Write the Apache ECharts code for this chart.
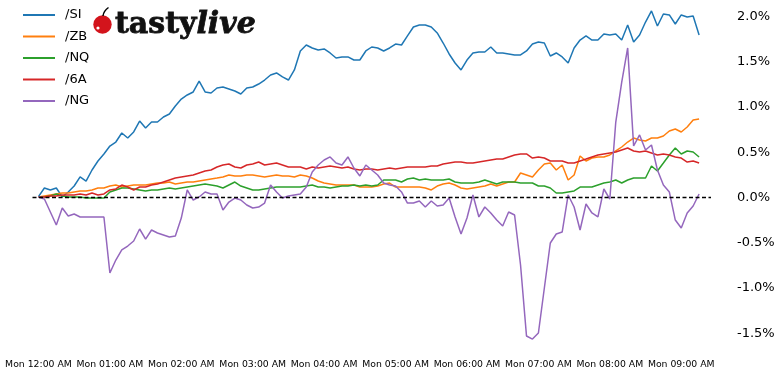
<!DOCTYPE html>
<html>
<head>
<meta charset="utf-8">
<script src="https://cdn.jsdelivr.net/npm/echarts@6/dist/echarts.min.js"></script>
<style>
html,body{margin:0;padding:0;background:#fff;}
#chart{width:780px;height:375px;}
</style>
</head>
<body>
<div id="chart"></div>
<script>
// x: minutes since Mon 12:00 AM, one point every 5 minutes
const STEP_MIN = 5;
const HOUR_LABELS = ["Mon 12:00 AM","Mon 01:00 AM","Mon 02:00 AM","Mon 03:00 AM","Mon 04:00 AM","Mon 05:00 AM","Mon 06:00 AM","Mon 07:00 AM","Mon 08:00 AM","Mon 09:00 AM"];
const Y_TICKS = [-1.5,-1.0,-0.5,0.0,0.5,1.0,1.5,2.0];

const SI = [0.01,0.105,0.083,0.105,0.006,0.061,0.127,0.227,0.182,0.304,
0.403,0.481,0.569,0.613,0.713,0.657,0.724,0.845,0.768,0.834,
0.834,0.890,0.923,1.011,1.088,1.133,1.166,1.287,1.166,1.155,
1.210,1.221,1.199,1.177,1.144,1.210,1.221,1.254,1.298,1.354,
1.376,1.332,1.298,1.409,1.619,1.685,1.652,1.630,1.641,1.597,
1.541,1.553,1.553,1.519,1.519,1.619,1.663,1.652,1.619,1.652,
1.696,1.685,1.785,1.884,1.906,1.906,1.884,1.818,1.707,1.586,
1.486,1.409,1.519,1.597,1.608,1.608,1.663,1.597,1.597,1.586,
1.575,1.575,1.619,1.696,1.718,1.707,1.564,1.597,1.553,1.486,
1.652,1.740,1.785,1.740,1.740,1.807,1.796,1.807,1.740,1.906,
1.718,1.796,1.939,2.061,1.895,2.028,2.017,1.917,2.017,1.994,
2.006,1.796];

const ZB = [0.006,0.017,0.028,0.039,0.050,0.050,0.061,0.072,0.072,0.083,
0.105,0.105,0.127,0.138,0.116,0.127,0.138,0.138,0.138,0.149,
0.160,0.160,0.171,0.149,0.160,0.171,0.171,0.182,0.193,0.204,
0.215,0.227,0.249,0.238,0.238,0.249,0.249,0.238,0.227,0.238,
0.249,0.238,0.238,0.227,0.249,0.238,0.215,0.182,0.160,0.149,
0.138,0.138,0.138,0.138,0.116,0.116,0.116,0.127,0.149,0.160,
0.116,0.116,0.116,0.116,0.116,0.105,0.083,0.127,0.149,0.160,
0.138,0.105,0.094,0.105,0.116,0.127,0.149,0.127,0.149,0.171,
0.171,0.271,0.249,0.227,0.304,0.370,0.381,0.304,0.359,0.193,
0.249,0.459,0.403,0.436,0.448,0.448,0.470,0.514,0.558,0.613,
0.657,0.635,0.624,0.657,0.657,0.680,0.735,0.757,0.724,0.779,
0.856,0.867];

const NQ = [0.006,0.006,0.017,0.039,0.017,0.006,0.006,0.006,-0.006,-0.006,
-0.006,-0.006,0.061,0.083,0.105,0.105,0.094,0.083,0.072,0.083,
0.083,0.094,0.105,0.094,0.105,0.116,0.127,0.138,0.149,0.138,
0.127,0.105,0.138,0.171,0.127,0.105,0.083,0.083,0.094,0.105,
0.116,0.116,0.116,0.116,0.116,0.127,0.138,0.116,0.116,0.105,
0.116,0.127,0.127,0.138,0.127,0.138,0.127,0.138,0.193,0.193,
0.193,0.171,0.204,0.215,0.193,0.204,0.193,0.193,0.193,0.204,
0.171,0.160,0.160,0.160,0.171,0.193,0.171,0.149,0.171,0.171,
0.171,0.160,0.160,0.160,0.127,0.127,0.105,0.050,0.050,0.061,
0.072,0.116,0.116,0.116,0.138,0.160,0.171,0.193,0.160,0.193,
0.215,0.215,0.215,0.348,0.293,0.381,0.470,0.547,0.481,0.514,
0.503,0.448];

const A6 = [0.006,0.006,0.017,0.017,0.028,0.028,0.028,0.039,0.028,0.050,
0.028,0.039,0.083,0.094,0.138,0.116,0.083,0.116,0.116,0.138,
0.149,0.171,0.193,0.215,0.227,0.238,0.249,0.271,0.293,0.304,
0.337,0.359,0.370,0.337,0.326,0.359,0.370,0.392,0.359,0.370,
0.381,0.359,0.337,0.337,0.337,0.315,0.337,0.326,0.337,0.348,
0.337,0.326,0.337,0.315,0.304,0.315,0.315,0.304,0.315,0.326,
0.315,0.326,0.337,0.337,0.337,0.337,0.348,0.348,0.370,0.381,
0.392,0.392,0.381,0.381,0.392,0.403,0.414,0.425,0.425,0.448,
0.470,0.481,0.481,0.436,0.448,0.436,0.403,0.403,0.403,0.381,
0.381,0.403,0.425,0.448,0.470,0.481,0.492,0.503,0.525,0.547,
0.514,0.503,0.514,0.492,0.470,0.481,0.470,0.448,0.436,0.392,
0.403,0.381];

const NG = [0.006,-0.017,-0.160,-0.304,-0.116,-0.204,-0.182,-0.215,-0.215,-0.215,
-0.215,-0.215,-0.834,-0.691,-0.580,-0.536,-0.481,-0.348,-0.459,-0.359,
-0.392,-0.414,-0.437,-0.425,-0.227,0.083,-0.028,0.006,0.061,0.039,
0.039,-0.138,-0.050,-0.006,-0.028,-0.083,-0.116,-0.105,-0.061,0.138,
0.061,-0.006,0.017,0.028,0.039,0.116,0.282,0.359,0.414,0.448,
0.381,0.359,0.448,0.326,0.238,0.359,0.304,0.249,0.160,0.138,
0.127,0.061,-0.061,-0.061,-0.039,-0.105,-0.039,-0.094,-0.083,-0.006,
-0.215,-0.403,-0.227,0.028,-0.215,-0.105,-0.171,-0.249,-0.315,-0.160,
-0.193,-0.746,-1.530,-1.564,-1.497,-1.000,-0.503,-0.403,-0.381,0.028,
-0.105,-0.359,-0.072,-0.171,-0.215,0.094,-0.017,0.834,1.276,1.652,
0.569,0.691,0.525,0.580,0.304,0.138,0.061,-0.249,-0.337,-0.171,
-0.094,0.039];

const SERIES_NAMES = ["/SI","/ZB","/NQ","/6A","/NG"];
const SERIES_DATA = [SI, ZB, NQ, A6, NG];
const COLORS = ["#1f77b4","#ff7f0e","#2ca02c","#d62728","#9467bd"];

const chart = echarts.init(document.getElementById('chart'), null, {renderer:'canvas'});
const FONT = 'DejaVu Sans';

const series = SERIES_NAMES.map((name, k) => {
  const s = {
    name: name,
    type: 'line',
    data: SERIES_DATA[k].map((v, i) => [i * STEP_MIN, v]),
    symbol: 'none',
    showSymbol: false,
    lineStyle: {width: 1.5, color: COLORS[k]},
    itemStyle: {color: COLORS[k]},
    animation: false
  };
  if (k === 0) {
    s.markLine = {
      silent: true,
      symbol: ['none','none'],
      label: {show: false},
      lineStyle: {color: '#000', type: [4, 2.5], width: 1.3},
      data: [{yAxis: 0}],
      animation: false
    };
  }
  return s;
});

chart.setOption({
  backgroundColor: '#fff',
  animation: false,
  grid: {left: 32.5, right: 69, top: 7.45, bottom: 32.7, containLabel: false},
  legend: {
    orient: 'vertical',
    left: 18, top: 2,
    icon: 'rect',
    itemWidth: 32, itemHeight: 2,
    itemGap: 5.5,
    data: SERIES_NAMES,
    textStyle: {fontFamily: FONT, fontSize: 13, color: '#000', lineHeight: 16, padding: [0,0,0,5]}
  },
  xAxis: {
    type: 'value',
    min: -5, max: 565,
    axisLine: {show: false},
    axisTick: {show: false},
    splitLine: {show: false},
    axisLabel: {
      customValues: HOUR_LABELS.map((_, h) => h * 60),
      formatter: v => HOUR_LABELS[Math.round(v / 60)] || '',
      fontFamily: FONT, fontSize: 9.3, color: '#000', margin: 18
    }
  },
  yAxis: {
    type: 'value',
    position: 'right',
    min: -1.6, max: 2.1,
    axisLine: {show: false},
    axisTick: {show: false},
    splitLine: {show: false},
    axisLabel: {
      customValues: Y_TICKS,
      formatter: v => v.toFixed(1) + '%',
      fontFamily: FONT, fontSize: 13, color: '#000', margin: 26
    }
  },
  graphic: [
    {type: 'circle', shape: {cx: 102.5, cy: 24.5, r: 9.2}, style: {fill: '#d3141c'}, z: 100},
    {type: 'circle', shape: {cx: 98, cy: 28, r: 1.6}, style: {fill: '#fff'}, z: 101},
    {type: 'bezierCurve', shape: {x1: 103, y1: 16, x2: 108.5, y2: 7.5, cpx1: 103.5, cpy1: 11}, style: {stroke: '#000', lineWidth: 1.5, fill: null}, z: 101},
    {type: 'text', x: 115, y: 25, z: 100, style: {
      text: '{a|tasty}{b|live}',
      verticalAlign: 'middle',
      rich: {
        a: {fontFamily: 'DejaVu Serif', fontWeight: 'bold', fontSize: 30, fill: '#111', stroke: '#111', lineWidth: 0.8},
        b: {fontFamily: 'DejaVu Serif', fontWeight: 'bold', fontStyle: 'italic', fontSize: 30, fill: '#111', stroke: '#111', lineWidth: 0.8}
      }
    }}
  ],
  series: series
});
</script>
</body>
</html>
